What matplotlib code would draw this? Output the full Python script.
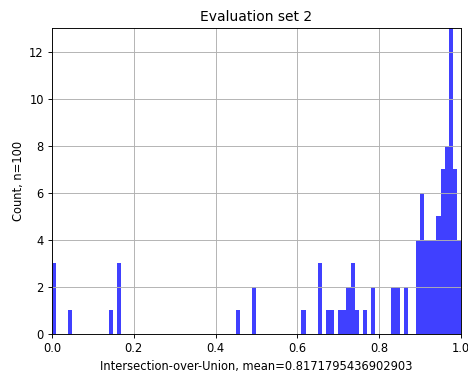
import matplotlib
matplotlib.use("Agg")
import matplotlib.pyplot as plt
import numpy as np

# Histogram bin indices (bin width 0.01 over [0, 1]) and counts
bin_index = [0, 4, 14, 16, 45, 49, 61, 65, 67, 68, 70, 71, 72, 73, 74, 76, 78,
             83, 84, 86, 89, 90, 91, 92, 93, 94, 95, 96, 97, 98, 99]
counts = [3, 1, 1, 3, 1, 2, 1, 3, 1, 1, 1, 1, 2, 3, 1, 1, 2,
          2, 2, 2, 4, 6, 4, 4, 4, 5, 7, 8, 13, 7, 4]
n_bins = 100
title = "Evaluation set 2"
xlabel = "Intersection-over-Union, mean=0.8171795436902903"
ylabel = "Count, n=100"

centers = (np.array(bin_index) + 0.5) / n_bins

DPI = 83
fig = plt.figure(figsize=(468 / DPI, 374 / DPI), dpi=DPI)
ax = fig.add_axes([0.111, 0.107, 0.874, 0.818])
ax.hist(centers, bins=n_bins, range=(0, 1), weights=counts,
        color="blue", alpha=0.75)
ax.set_xlim(0, 1)
ax.set_ylim(0, 13)
ax.set_title(title)
ax.set_xlabel(xlabel)
ax.set_ylabel(ylabel)
ax.grid(True)
fig.savefig("out.png", dpi=DPI)
